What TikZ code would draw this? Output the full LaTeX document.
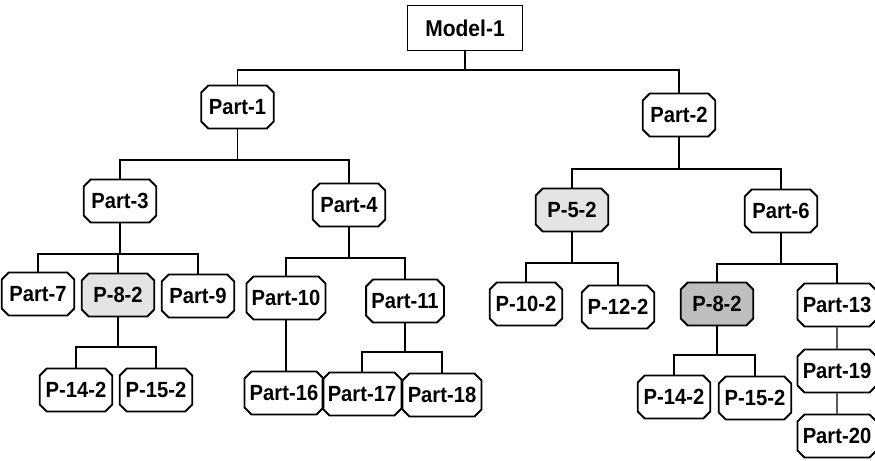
\documentclass[tikz,border=0pt]{standalone}
\usepackage{fontspec}
\setmainfont{Liberation Sans}
\newfontfamily\partfont{Liberation Sans}[FakeStretch=0.92]
\usepackage{tikz}
\usetikzlibrary{shapes.misc,calc}
\definecolor{shadelight}{RGB}{228,228,228}
\definecolor{shadedark}{RGB}{190,190,190}

\begin{document}
\begin{tikzpicture}[
    x=0.02cm, y=-0.02cm,
    partnode/.style={chamfered rectangle, chamfered rectangle xsep=2pt, chamfered rectangle ysep=2pt,
        draw, line width=1.1pt, minimum width=1.45cm, minimum height=0.86cm, inner xsep=1pt, inner ysep=2pt,
        font=\partfont\fontsize{12.5}{14}\selectfont\bfseries},
    marked/.style={partnode, fill=shadelight},
    markeddark/.style={partnode, fill=shadedark},
    link/.style={line width=0.8pt},
]
    \useasboundingbox (0,0) rectangle (875,460);
    % root
    \node[draw, line width=1.1pt, minimum width=2.3cm, minimum height=0.9cm,
        font=\partfont\fontsize{13}{15}\selectfont\bfseries] (model) at (465,28) {Model-1};
    % level 1
    \node[partnode] (p1) at (237.5,107) {Part-1};
    \node[partnode] (p2) at (679,115) {Part-2};
    % level 2
    \node[partnode] (p3) at (120,201) {Part-3};
    \node[partnode] (p4) at (349,205) {Part-4};
    \node[marked] (p5) at (572,210) {P-5-2};
    \node[partnode] (p6) at (781,211) {Part-6};
    % level 3
    \node[partnode] (p7) at (38,294) {Part-7};
    \node[marked] (p8) at (118,295) {P-8-2};
    \node[partnode] (p9) at (198,296) {Part-9};
    \node[partnode] (p10) at (286,298) {Part-10};
    \node[partnode] (p11) at (405,301) {Part-11};
    \node[partnode] (p10b) at (526,304) {P-10-2};
    \node[partnode] (p12b) at (618,307) {P-12-2};
    \node[markeddark] (p8b) at (717,304) {P-8-2};
    \node[partnode] (p13) at (837,305) {Part-13};
    % level 4
    \node[partnode] (p14) at (76,390) {P-14-2};
    \node[partnode] (p15) at (156,390) {P-15-2};
    \node[partnode] (p16) at (284,393) {Part-16};
    \node[partnode] (p17) at (362,394) {Part-17};
    \node[partnode] (p18) at (442,395) {Part-18};
    \node[partnode] (p14b) at (674,397) {P-14-2};
    \node[partnode] (p15b) at (755,398) {P-15-2};
    \node[partnode] (p19) at (837,371) {Part-19};
    \node[partnode] (p20) at (837,436) {Part-20};

    % bars of the forks
    \coordinate (b0) at (model.south |- 0,70);
    \coordinate (b1) at (p1.south |- 0,160);
    \coordinate (b2) at (p2.south |- 0,169);
    \coordinate (b3) at (p3.south |- 0,254);
    \coordinate (b4) at (p4.south |- 0,258);
    \coordinate (b5) at (p5.south |- 0,263);
    \coordinate (b6) at (p6.south |- 0,264);
    \coordinate (b8) at (p8.south |- 0,347);
    \coordinate (b11) at (p11.south |- 0,352);
    \coordinate (b8b) at (p8b.south |- 0,355);

    \foreach \pa/\ba/\lc/\rc in {model/b0/p1/p2, p1/b1/p3/p4, p2/b2/p5/p6,
        p3/b3/p7/p9, p4/b4/p10/p11, p5/b5/p10b/p12b, p6/b6/p8b/p13,
        p8/b8/p14/p15, p11/b11/p17/p18, p8b/b8b/p14b/p15b} {
        \draw[link] (\pa.south) -- (\ba);
        \draw[link] (\lc.north) |- (\ba) -| (\rc.north);
    }
    \draw[link] (p8.north) -- (p8.north |- b3);
    \draw[link] (p10.south) -- (p10.south |- p16.north);
    \draw[link] (p13) -- (p19);
    \draw[link] (p19) -- (p20);
\end{tikzpicture}
\end{document}
